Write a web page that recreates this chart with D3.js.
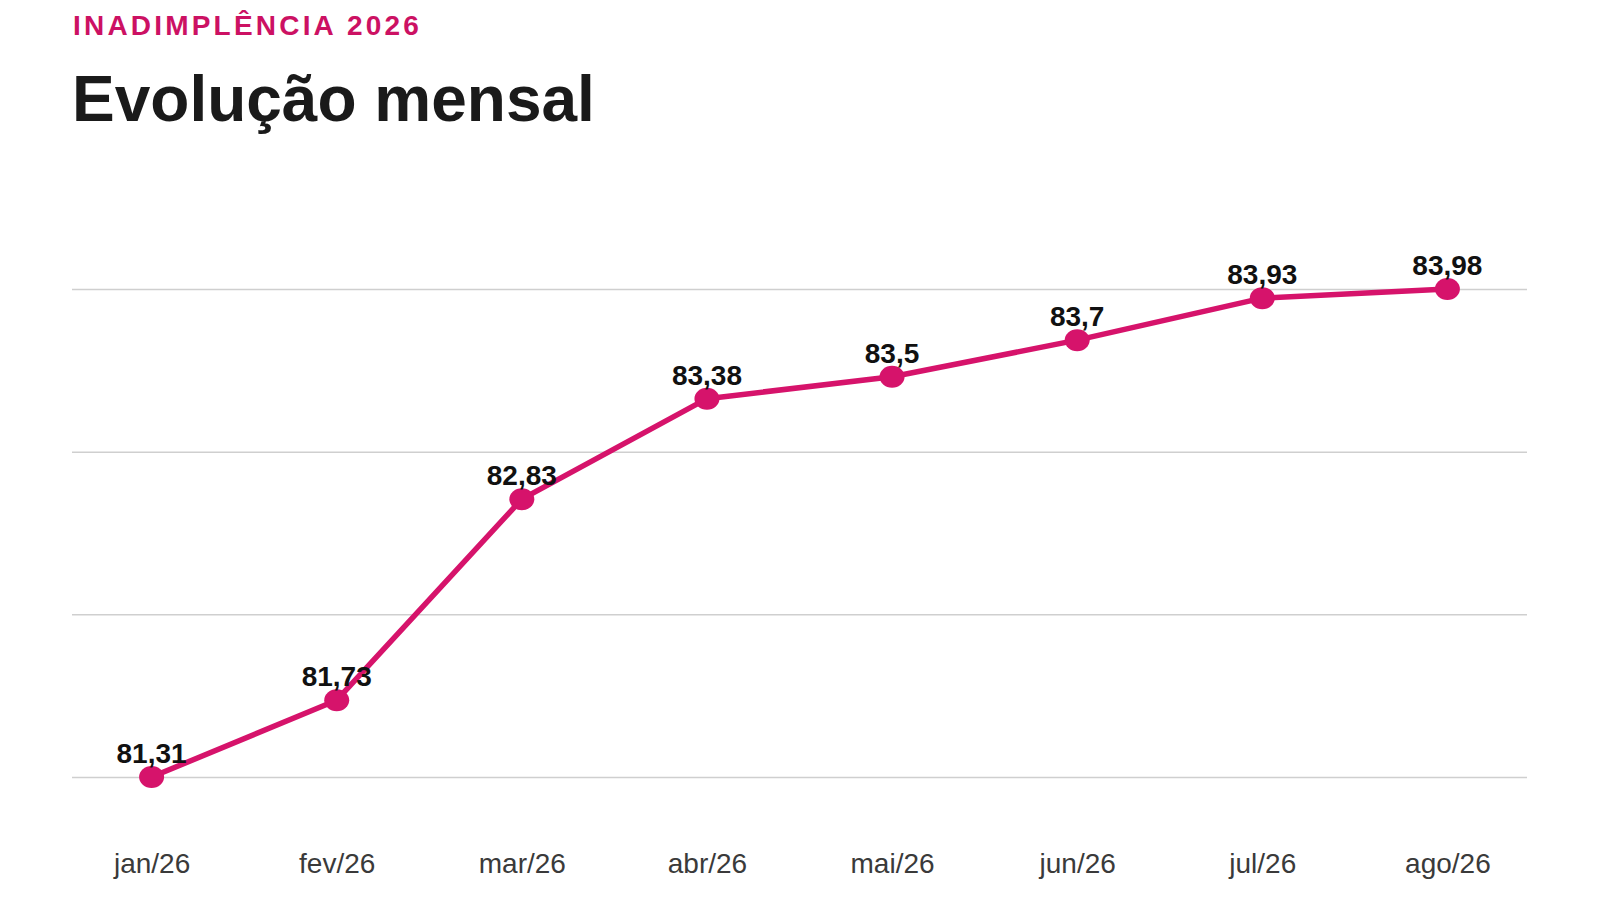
<!DOCTYPE html>
<html>
<head>
<meta charset="utf-8">
<script src="https://cdn.jsdelivr.net/npm/d3@7"></script>
<style>
    body { margin: 0; background: #fff; }
    svg { display: block; font-family: 'Liberation Sans', Arial, sans-serif; }
</style>
</head>
<body>
<svg id="chart"></svg>
<script>
const months = ['jan/26', 'fev/26', 'mar/26', 'abr/26', 'mai/26', 'jun/26', 'jul/26', 'ago/26'];
const values = [81.31, 81.73, 82.83, 83.38, 83.5, 83.7, 83.93, 83.98];
const kicker = 'INADIMPLÊNCIA 2026';
const title = 'Evolução mensal';

initChart();

function initChart() {
    const size = { w: 1600, h: 900 };
    const plot = { left: 72, right: 1527, top: 289, bottom: 777 };
    const pink = '#d6136b';

    const svg = d3.select('#chart')
        .attr('width', size.w)
        .attr('height', size.h);

    const data = months.map((m, i) => ({ month: m, value: values[i] }));

    let x = d3.scalePoint()
        .domain(months)
        .range([plot.left, plot.right])
        .padding(0.43);
    let y = d3.scaleLinear()
        .domain(d3.extent(values))
        .range([plot.bottom, plot.top]);

    // Header
    svg.append('text')
        .attr('x', 73)
        .attr('y', 35)
        .attr('fill', '#cc1163')
        .attr('font-size', 28)
        .attr('font-weight', 'bold')
        .attr('letter-spacing', 3.2)
        .text(kicker);
    svg.append('text')
        .attr('x', 72)
        .attr('y', 121)
        .attr('fill', '#1a1a1a')
        .attr('font-size', 64)
        .attr('font-weight', 'bold')
        .text(title);

    // Grid: four evenly spaced lines between min and max
    const [lo, hi] = y.domain();
    const gridTicks = d3.range(4).map((i) => lo + i * (hi - lo) / 3);
    svg.append('g')
        .attr('class', 'grid')
        .attr('transform', 'translate(' + plot.left + ',0)')
        .call(d3.axisLeft(y)
            .tickValues(gridTicks)
            .tickSize(-(plot.right - plot.left))
            .tickFormat('')
        )
        .call((g) => g.select('.domain').remove())
        .call((g) => g.selectAll('line').attr('stroke', '#cfcfcf').attr('stroke-width', 1.5));

    // X axis labels
    svg.append('g')
        .attr('transform', 'translate(0,' + 873 + ')')
        .call(d3.axisBottom(x).tickSize(0).tickPadding(0))
        .call((g) => g.select('.domain').remove())
        .call((g) => g.selectAll('text')
            .attr('dy', 0)
            .attr('fill', '#3a3a3a')
            .attr('font-size', 28)
            .attr('font-family', "'Liberation Sans', Arial, sans-serif"));

    // Line
    const line = d3.line()
        .x((d) => x(d.month))
        .y((d) => y(d.value));
    svg.append('path')
        .attr('d', line(data))
        .attr('fill', 'none')
        .attr('stroke', pink)
        .attr('stroke-width', 5.5)
        .attr('stroke-linejoin', 'round');

    // Points
    svg.selectAll('.dot')
        .data(data)
        .enter()
        .append('ellipse')
        .attr('class', 'dot')
        .attr('cx', (d) => x(d.month))
        .attr('cy', (d) => y(d.value))
        .attr('rx', 12.5)
        .attr('ry', 11)
        .attr('fill', pink);

    // Value labels
    const fmt = (v) => String(v).replace('.', ',');
    svg.selectAll('.label')
        .data(data)
        .enter()
        .append('text')
        .attr('class', 'label')
        .attr('x', (d) => x(d.month))
        .attr('y', (d) => y(d.value) - 14)
        .attr('text-anchor', 'middle')
        .attr('font-size', 28)
        .attr('font-weight', 'bold')
        .attr('fill', '#111')
        .text((d) => fmt(d.value));
}
</script>
</body>
</html>
